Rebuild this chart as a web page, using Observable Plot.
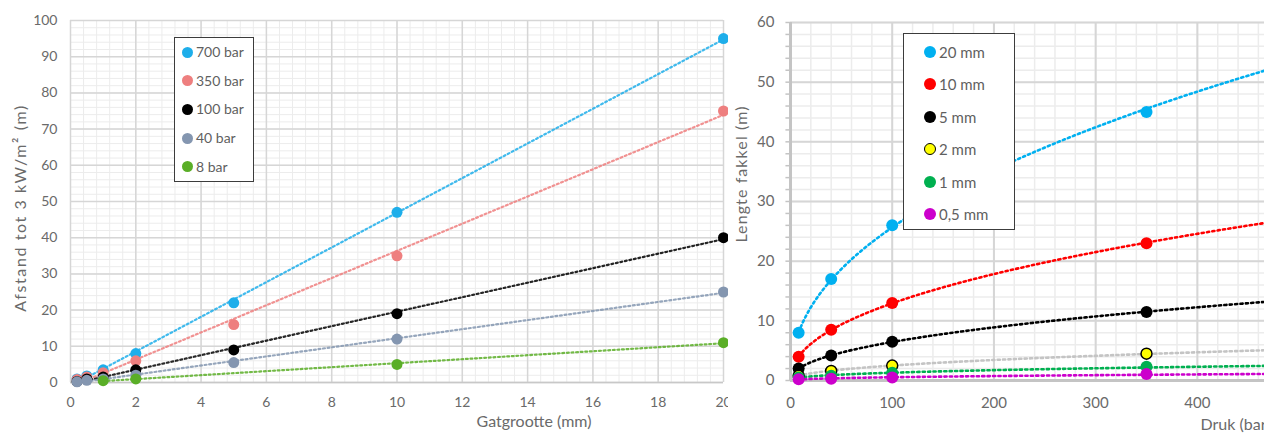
<!DOCTYPE html>
<html>
<head>
<meta charset="utf-8">
<script src="https://cdn.jsdelivr.net/npm/d3@7"></script>
<script src="https://cdn.jsdelivr.net/npm/@observablehq/plot@0.6"></script>
<style>
  html, body { margin: 0; padding: 0; background: #fff; }
  #wrap { position: relative; width: 1264px; height: 435px; overflow: hidden; font-family: Lato, "Open Sans", sans-serif; }
  .panel { position: absolute; top: 0; }
  .legend { position: absolute; background: #fff; border: 1.5px solid #3c3c3c; box-sizing: border-box; }
  .item { position: absolute; left: 0; right: 0; height: 20px; line-height: 20px; color: #5f5f5f; white-space: nowrap; }
  .sw { position: absolute; border-radius: 50%; box-sizing: border-box; }
  .ytitle { position: absolute; width: 300px; height: 20px; line-height: 20px; text-align: center; color: #6a6a6a; transform: rotate(-90deg); white-space: nowrap; }
</style>
</head>
<body>
<div id="wrap">
  <div id="left" class="panel" style="left:0px"></div>
  <div id="right" class="panel" style="left:728px"></div>
</div>
<script>
// ---------- Left chart data ----------
const gatSizes = [0.2, 0.5, 1, 2, 5, 10, 20];
const bar700 = [1, 1.8, 3.5, 8, 22, 47, 95];
const bar350 = [0.8, 1.5, 2.7, 6, 16, 35, 75];
const bar100 = [0.3, 1, 1.5, 3.5, 9, 19, 40];
const bar40  = [0.2, 0.6, 1, 2, 5.5, 12, 25];
const bar8   = [null, null, 0.5, 1, null, 5, 11];
const leftNames  = ["700 bar", "350 bar", "100 bar", "40 bar", "8 bar"];
const leftColors = ["#1eaeea", "#ee7f7f", "#000000", "#8496b0", "#5aae27"];
const leftValues = [bar700, bar350, bar100, bar40, bar8];
const leftXTicks = [0, 2, 4, 6, 8, 10, 12, 14, 16, 18, 20];
const leftYTicks = [0, 10, 20, 30, 40, 50, 60, 70, 80, 90, 100];
const leftXTitle = "Gatgrootte (mm)";
const leftYTitle = "Afstand tot 3 kW/m² (m)";

// ---------- Right chart data ----------
const drukValues = [8, 40, 100, 350];
const mm20 = [8, 17, 26, 45];
const mm10 = [4, 8.5, 13, 23];
const mm5  = [2, 4.2, 6.5, 11.5];
const mm2  = [0.8, 1.6, 2.5, 4.5];
const mm1  = [0.5, 0.8, 1.3, 2.3];
const mm05 = [0.2, 0.3, 0.5, 1.1];
const rightNames   = ["20 mm", "10 mm", "5 mm", "2 mm", "1 mm", "0,5 mm"];
const rightFills   = ["#00b0f0", "#ff0000", "#000000", "#ffff00", "#00b050", "#cc00cc"];
const rightStrokes = [null, null, null, "#000000", null, null];
const rightLines   = ["#00b0f0", "#ff0000", "#000000", "#c4c4c4", "#00b050", "#cc00cc"];
const rightValues  = [mm20, mm10, mm5, mm2, mm1, mm05];
const rightXTicks = [0, 100, 200, 300, 400];
const rightYTicks = [0, 10, 20, 30, 40, 50, 60];
const rightXTitle = "Druk (bar)";
const rightYTitle = "Lengte fakkel (m)";

const textColor = "#6a6a6a";
const majorGrid = "#d6d6d6";
const minorGrid = "#ececec";

// ---------- Left chart ----------
const leftSeries = leftNames.map((name, i) => ({
  name, color: leftColors[i],
  rows: gatSizes.map((x, j) => ({x, y: leftValues[i][j]})).filter(d => d.y != null)
}));
const leftMinorX = d3.range(0, 20.001, 0.4);
const leftMinorY = d3.range(0, 100.001, 2);

const leftPlot = Plot.plot({
  width: 740, height: 435,
  marginLeft: 70, marginRight: 17, marginTop: 20, marginBottom: 53,
  style: {fontFamily: "Lato, 'Open Sans', sans-serif", fontSize: "14px", color: textColor, background: "transparent"},
  x: {domain: [0, 20], ticks: leftXTicks, tickSize: 0, tickPadding: 15, label: null},
  y: {domain: [0, 100], ticks: leftYTicks, tickSize: 0, tickPadding: 13, label: null},
  marks: [
    Plot.ruleX(leftMinorX, {stroke: minorGrid, strokeWidth: 1}),
    Plot.ruleY(leftMinorY, {stroke: minorGrid, strokeWidth: 1}),
    Plot.ruleX(leftXTicks, {stroke: majorGrid, strokeWidth: 1.5}),
    Plot.ruleY(leftYTicks, {stroke: majorGrid, strokeWidth: 1.5}),
    Plot.ruleY([0], {stroke: "#c8c8c8", strokeWidth: 1.5}),
    ...leftSeries.map(s => Plot.linearRegressionY(s.rows, {x: "x", y: "y", ci: 0, stroke: s.color, strokeWidth: 2.2, strokeDasharray: "1.9 2.7", strokeOpacity: 0.85})),
    ...leftSeries.map(s => Plot.dot(s.rows, {x: "x", y: "y", fill: s.color, r: 5.5})),
    Plot.text([leftXTitle], {text: d => d, frameAnchor: "bottom", dx: 137, dy: 44, fontSize: 16, fill: textColor})
  ]
});
document.getElementById("left").appendChild(leftPlot);

// ---------- Right chart ----------
const xMaxRight = 466;
function powerFit(xs, ys) {
  const lx = xs.map(Math.log), ly = ys.map(Math.log);
  const mx = d3.mean(lx), my = d3.mean(ly);
  const b = d3.sum(lx, (v, i) => (v - mx) * (ly[i] - my)) / d3.sum(lx, v => (v - mx) ** 2);
  const a = Math.exp(my - b * mx);
  return x => a * Math.pow(x, b);
}
const rightSeries = rightNames.map((name, i) => {
  const rows = drukValues.map((x, j) => ({x, y: rightValues[i][j]}));
  const f = powerFit(drukValues, rightValues[i]);
  const x0 = d3.min(drukValues);
  const curve = d3.range(0, 121).map(k => { const x = x0 + (xMaxRight - x0) * k / 120; return {x, y: f(x)}; });
  return {name, fill: rightFills[i], stroke: rightStrokes[i], line: rightLines[i], rows, curve};
});
const rightMinorX = d3.range(0, xMaxRight, 20);
const rightMinorY = d3.range(0, 60.001, 2);

const rightPlot = Plot.plot({
  width: 536, height: 435,
  marginLeft: 62, marginRight: 0, marginTop: 22, marginBottom: 55,
  style: {fontFamily: "Lato, 'Open Sans', sans-serif", fontSize: "15px", color: textColor, background: "#fff", overflow: "hidden"},
  x: {domain: [0, xMaxRight], ticks: rightXTicks, tickSize: 0, tickPadding: 17, label: null},
  y: {domain: [0, 60], ticks: rightYTicks, tickSize: 0, tickPadding: 16, label: null},
  marks: [
    Plot.ruleX(rightMinorX, {stroke: minorGrid, strokeWidth: 1.5}),
    Plot.ruleY(rightMinorY, {stroke: minorGrid, strokeWidth: 1.5}),
    Plot.ruleX(rightXTicks, {stroke: majorGrid, strokeWidth: 2}),
    Plot.ruleY(rightYTicks, {stroke: majorGrid, strokeWidth: 2}),
    Plot.ruleY(rightMinorY, {x1: -4.5, x2: 0, stroke: "#c4c4c4", strokeWidth: 1.5}),
    Plot.ruleX([0], {stroke: "#c4c4c4", strokeWidth: 3}),
    Plot.ruleY([0], {stroke: "#c4c4c4", strokeWidth: 3}),
    ...rightSeries.map(s => Plot.line(s.curve, {x: "x", y: "y", stroke: s.line, strokeWidth: 2.6, strokeDasharray: "2.2 3.2"})),
    ...rightSeries.map(s => Plot.dot(s.rows, {x: "x", y: "y", fill: s.fill, stroke: s.stroke || "none", strokeWidth: 1.5, r: s.stroke ? 5.5 : 6})),
    Plot.text([rightXTitle], {text: d => d, frameAnchor: "bottom-left", textAnchor: "start", dx: 410, dy: 49, fontSize: 16, fill: textColor})
  ]
});
document.getElementById("right").appendChild(rightPlot);

// ---------- Rotated axis titles ----------
function yTitle(text, cx, cy, size, spacing) {
  const el = document.createElement("div");
  el.className = "ytitle";
  el.textContent = text;
  el.style.left = (cx - 150) + "px";
  el.style.top = (cy - 10) + "px";
  el.style.fontSize = size + "px";
  el.style.letterSpacing = spacing + "px";
  document.getElementById("wrap").appendChild(el);
}
yTitle(leftYTitle, 20, 208, 16, 1.6);
yTitle(rightYTitle, 741, 174, 16, 1.1);

// ---------- Legends ----------
function legend(box, items, opts) {
  const el = document.createElement("div");
  el.className = "legend";
  Object.assign(el.style, {left: box.left + "px", top: box.top + "px", width: box.width + "px", height: box.height + "px", fontSize: opts.fontSize + "px"});
  items.forEach((it, i) => {
    const row = document.createElement("div");
    row.className = "item";
    row.style.top = (opts.first + i * opts.step - 10) + "px";
    const sw = document.createElement("span");
    sw.className = "sw";
    const d = opts.dot;
    Object.assign(sw.style, {left: (opts.dotX - d / 2) + "px", top: (10 - d / 2) + "px", width: d + "px", height: d + "px", background: it.fill, border: it.stroke ? "1.5px solid " + it.stroke : "none"});
    const tx = document.createElement("span");
    tx.textContent = it.name;
    tx.style.position = "absolute";
    tx.style.left = opts.textX + "px";
    row.appendChild(sw); row.appendChild(tx);
    el.appendChild(row);
  });
  document.getElementById("wrap").appendChild(el);
}
legend({left: 174, top: 37, width: 80, height: 145},
  leftNames.map((n, i) => ({name: n, fill: leftColors[i]})),
  {fontSize: 14, first: 14, step: 28.7, dotX: 12.5, textX: 21, dot: 11});
legend({left: 903, top: 33, width: 112, height: 197},
  rightNames.map((n, i) => ({name: n, fill: rightFills[i], stroke: rightStrokes[i]})),
  {fontSize: 15, first: 18, step: 32.4, dotX: 25.5, textX: 35, dot: 12});
</script>
</body>
</html>
